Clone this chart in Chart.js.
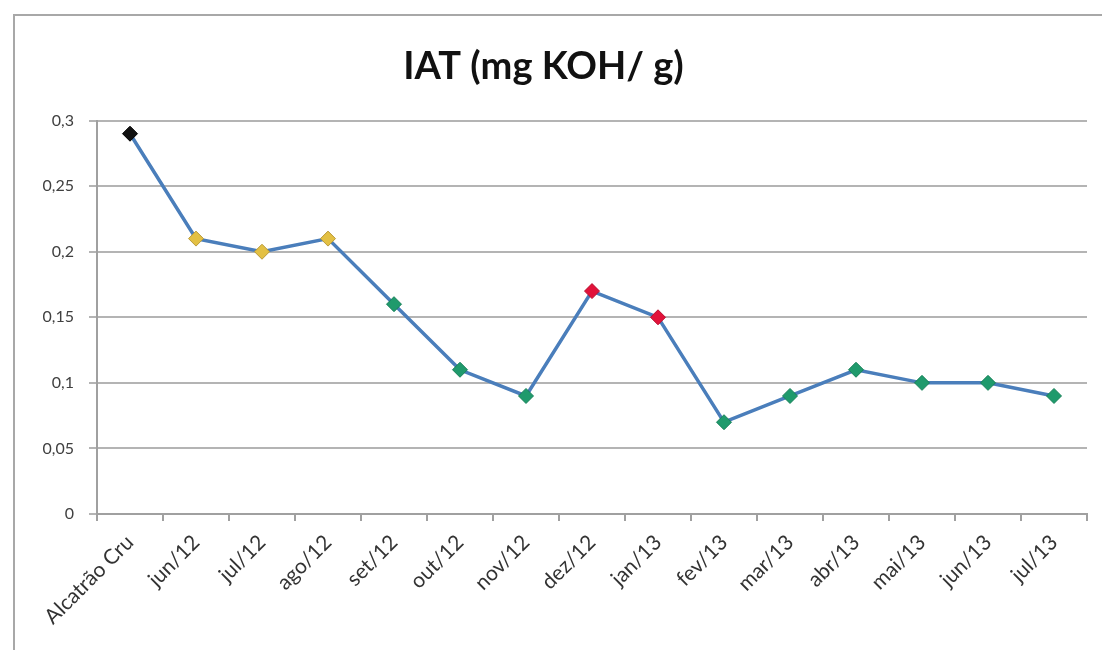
<!DOCTYPE html>
<html>
<script src="https://cdn.jsdelivr.net/npm/chart.js@4/dist/chart.umd.min.js"></script>
<body style="margin:0;background:#fff">

<div style="position:absolute;left:13px;top:14px;width:1089px;height:636px;border-top:2px solid #a8a8a8;border-left:2px solid #a8a8a8;"></div>
<div style="position:absolute;left:0;top:0;width:1102px;height:650px">
<canvas id="myChart" width="1102" height="650"></canvas>
</div>

<script>
var labels = ["Alcatrão Cru", "jun/12", "jul/12", "ago/12", "set/12", "out/12", "nov/12", "dez/12",
  "jan/13", "fev/13", "mar/13", "abr/13", "mai/13", "jun/13", "jul/13"];
var iatValues = [0.29, 0.21, 0.20, 0.21, 0.16, 0.11, 0.09, 0.17, 0.15, 0.07, 0.09, 0.11, 0.10, 0.10, 0.09];
// marker group per point: 0 = crude tar, 1 = yellow, 2 = green, 3 = red
var markerGroup = [0, 1, 1, 1, 2, 2, 2, 3, 3, 2, 2, 2, 2, 2, 2];

var fillColors = ["#111111", "#e3c043", "#1f9a6c", "#e2123a"];
var edgeColors = ["#000000", "#b89a3a", "#178058", "#b80e2e"];

var fontFamily = "Lato, 'Open Sans', sans-serif";

function fmt(v) {
  return parseFloat(Number(v).toFixed(2)).toString().replace('.', ',');
}

new Chart("myChart", {
  type: 'line',
  data: {
    labels: labels,
    datasets: [{
      label: 'IAT',
      data: iatValues,
      borderColor: '#4a7ebb',
      borderWidth: 3.5,
      tension: 0,
      pointStyle: 'rectRot',
      pointRadius: 7.5,
      pointHoverRadius: 7.5,
      pointBorderWidth: 1,
      pointBackgroundColor: markerGroup.map(function (g) { return fillColors[g]; }),
      pointBorderColor: markerGroup.map(function (g) { return edgeColors[g]; })
    }]
  },
  options: {
    responsive: false,
    animation: false,
    layout: { padding: { left: 0, right: 15, top: 0, bottom: 0 } },
    plugins: {
      legend: { display: false },
      tooltip: { enabled: false },
      title: {
        display: true,
        text: 'IAT (mg KOH/ g)',
        color: '#111111',
        font: { family: fontFamily, size: 38, weight: 'bold', lineHeight: 1.2 },
        padding: { top: 44, bottom: 31 }
      }
    },
    scales: {
      x: {
        offset: true,
        grid: {
          offset: true,
          drawOnChartArea: false,
          drawTicks: true,
          tickLength: 7,
          color: '#a0a0a0',
          lineWidth: 2
        },
        border: { color: '#a0a0a0', width: 2 },
        ticks: {
          autoSkip: false,
          maxRotation: 45,
          minRotation: 45,
          color: '#333333',
          padding: 9,
          font: { family: fontFamily, size: 21 }
        },
        afterFit: function (scale) { scale.height = 136; }
      },
      y: {
        min: 0,
        max: 0.3,
        ticks: {
          stepSize: 0.05,
          color: '#404040',
          padding: 15,
          font: { family: fontFamily, size: 16 },
          callback: function (v) { return fmt(v); }
        },
        grid: {
          color: '#b4b4b4',
          lineWidth: 2,
          tickLength: 8
        },
        border: { color: '#a0a0a0', width: 2 },
        afterFit: function (scale) { scale.width = 97; }
      }
    }
  }
});
</script>

</body>
</html>
